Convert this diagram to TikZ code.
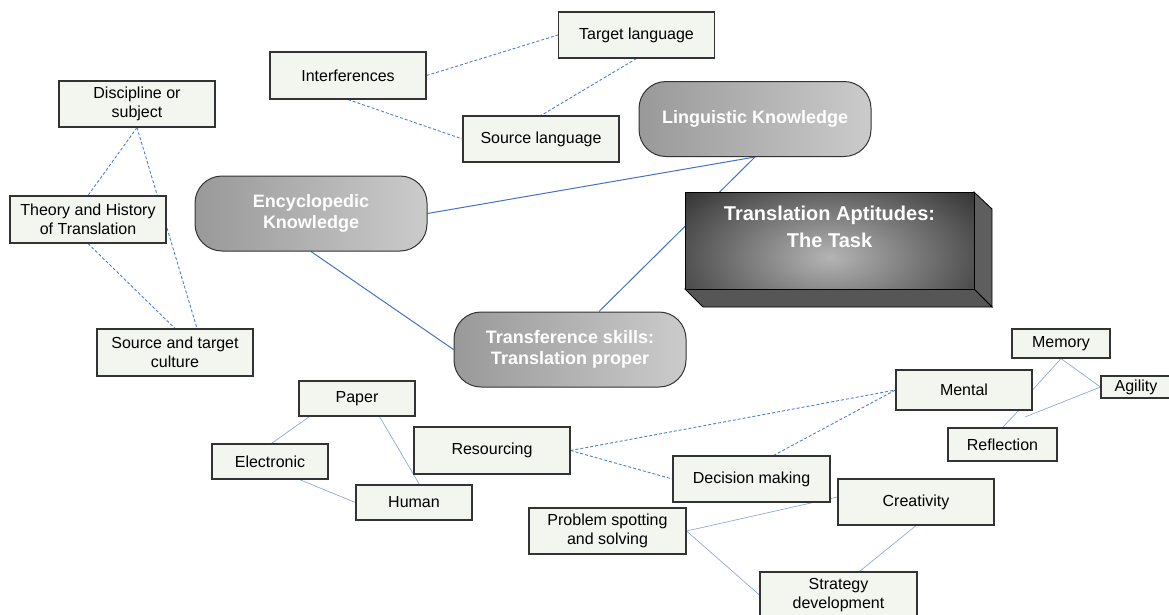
\documentclass[tikz,border=0pt]{standalone}
\usepackage{fontspec}
\setmainfont{Liberation Sans}
\usetikzlibrary{calc}
\pgfdeclarelayer{background}
\pgfsetlayers{background,main}
\definecolor{boxfill}{HTML}{F3F5EF}
\definecolor{boxline}{HTML}{333333}
\definecolor{dashblue}{HTML}{4F81CF}
\definecolor{solblue}{HTML}{4472C4}
\definecolor{thinblue}{HTML}{8EAADB}
\definecolor{pillL}{HTML}{999999}
\definecolor{pillR}{HTML}{CBCBCB}
\definecolor{taskglow}{HTML}{B4B4B4}
\definecolor{taskdark}{HTML}{2C2C2C}
\definecolor{sidegray}{HTML}{5E5E5E}
\definecolor{bottomgray}{HTML}{565656}
\tikzset{
  leaf/.style={draw=boxline, line width=1.1pt, fill=boxfill, inner sep=0pt,
    align=center, text=black, font=\fontsize{16}{18.5}\selectfont},
  wide/.style={minimum width=156pt, minimum height=46pt},
  narrow/.style={minimum width=116pt, minimum height=35pt},
  pill/.style={draw=boxline, line width=1pt, rounded corners=27pt,
    left color=pillL, right color=pillR, minimum width=232pt, minimum height=75pt,
    inner sep=0pt, align=center, text=white, font=\bfseries\fontsize{18}{21.5}\selectfont},
  tasktext/.style={inner sep=0pt, align=center, text=white,
    font=\bfseries\fontsize{20}{27}\selectfont},
  dashconn/.style={draw=dashblue, line width=0.9pt, dash pattern=on 3pt off 2pt},
  solconn/.style={draw=solblue, line width=1pt},
  thinconn/.style={draw=thinblue, line width=0.7pt}
}
\begin{document}
\begin{tikzpicture}[x=1pt,y=-1pt]
\useasboundingbox (0,0) rectangle (1169,614);
\clip (0,0) rectangle (1169,614);

% leaf boxes
\node[leaf,wide] (disc) at (137,104) {Discipline or\\subject};
\node[leaf,wide,minimum height=47pt] (theory) at (88,219.5) {Theory and History\\of Translation};
\node[leaf,wide,minimum height=47pt] (culture) at (175,352.5) {Source and target\\culture};
\node[leaf,wide,minimum height=47pt] (interf) at (348,75.5) {Interferences};
\node[leaf,wide] (target) at (636.5,35) {Target language};
\node[leaf,wide] (source) at (541,139) {Source language};

% main rounded nodes
\node[pill] (ling) at (755,119) {Linguistic Knowledge};
\node[pill] (ency) at (311,213.5) {Encyclopedic\\Knowledge};
\node[pill] (trans) at (570,349.5) {Transference skills:\\Translation proper};

% lower boxes
\node[leaf,narrow] (paper) at (357,398.5) {Paper};
\node[leaf,narrow] (electronic) at (270,461.5) {Electronic};
\node[leaf,narrow] (human) at (414,502.5) {Human};
\node[leaf,wide,minimum height=47pt] (resourcing) at (492,450.5) {Resourcing};
\node[leaf,wide,minimum width=157pt] (problem) at (607.5,531) {Problem spotting\\and solving};
\node[leaf,wide,minimum width=157pt] (decision) at (751.5,479) {Decision making};
\node[leaf,wide] (creativity) at (916,502) {Creativity};
\node[leaf,wide,minimum width=157pt] (strategy) at (838.5,595) {Strategy\\development};
\node[leaf,minimum width=136pt,minimum height=40pt] (mental) at (964,390) {Mental};
\node[leaf,minimum width=98pt,minimum height=29pt] (memory) at (1061,343.5) {Memory};
\node[leaf,minimum width=70pt,minimum height=22pt] (agility) at (1136,387) {Agility};
\node[leaf,minimum width=109pt,minimum height=33pt] (reflection) at (1002.5,444.5) {Reflection};

% central 3D box
\filldraw[fill=sidegray, draw=black, line width=0.8pt] (974,192) -- (992,209) -- (992,307) -- (974,289) -- cycle;
\filldraw[fill=bottomgray, draw=black, line width=0.8pt] (685,289) -- (974,289) -- (992,307) -- (703,307) -- cycle;
\begin{scope}
  \clip (685,192) rectangle (974,289);
  \shade[inner color=taskglow, outer color=taskdark] (630,150) rectangle (1030,364);
\end{scope}
\draw[black, line width=1pt] (685,192) rectangle (974,289);
\node[tasktext] (task) at (829.5,226.5) {Translation Aptitudes:\\The Task};

\coordinate (agend) at (1025,417);

\begin{pgfonlayer}{background}
\draw[dashconn] (interf.east) -- (target.west);
\draw[dashconn] (interf.south) -- (source.west);
\draw[dashconn] (target.south) -- (source.north);
\draw[dashconn] (disc.south) -- (theory.north);
\draw[dashconn] (disc.south) -- ([xshift=22pt]culture.north);
\draw[dashconn] (theory.south) -- (culture.north);
\draw[solconn] (ency.east) -- (ling.south);
\draw[solconn] (ling.south) -- ([xshift=29pt]trans.north);
\draw[solconn] (ency.south) -- (trans.west);
\draw[thinconn] ([xshift=11pt]paper.south west) -- ([xshift=60pt]electronic.north west);
\draw[thinconn] ([xshift=81pt]paper.south west) -- ([xshift=64pt]human.north west);
\draw[thinconn] ([xshift=88pt]electronic.south west) -- (human.west);
\draw[dashconn] (resourcing.east) -- (mental.west);
\draw[dashconn] (resourcing.east) -- (decision.west);
\draw[dashconn] ([xshift=22pt]decision.north) -- (mental.west);
\draw[thinconn] (problem.east) -- ([yshift=5pt]creativity.west);
\draw[thinconn] (problem.east) -- (strategy.west);
\draw[thinconn] (creativity.south) -- ([xshift=21pt]strategy.north);
\draw[thinconn] (memory.south) -- (mental.east);
\draw[thinconn] (memory.south) -- (agility.west);
\draw[thinconn] (agility.west) -- (agend);
\draw[thinconn] (reflection.north) -- ([xshift=-14pt]mental.south east);
\end{pgfonlayer}
\end{tikzpicture}
\end{document}
